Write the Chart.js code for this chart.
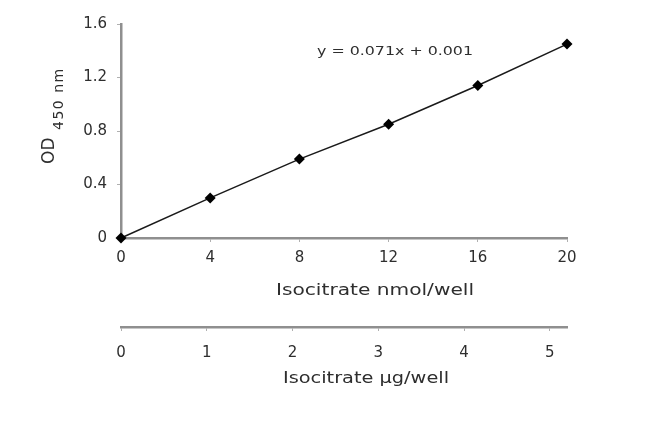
<!DOCTYPE html>
<html>
<head>
<meta charset="utf-8">
<script src="https://cdn.jsdelivr.net/npm/chart.js@4"></script>
<style>
  html, body { margin: 0; padding: 0; background: #fff; }
  #wrap { width: 650px; height: 432px; }
</style>
</head>
<body>
<div id="wrap"><canvas id="stdChart" width="650" height="432"></canvas></div>
<script>
// standard curve data
const nmolPerWell = [0, 4, 8, 12, 16, 20];
const od450 = [0, 0.30, 0.59, 0.85, 1.14, 1.45];
const xTicks = [0, 4, 8, 12, 16, 20];
const yTicks = [0, 0.4, 0.8, 1.2, 1.6];
const ugTicks = [0, 1, 2, 3, 4, 5];
const ugMax = 5.2;
const equationText = "y = 0.071x + 0.001";
const xTitle = "Isocitrate nmol/well";
const x2Title = "Isocitrate µg/well";

const textColor = '#2e2e2e';
const axisColor = '#8f8f8f';
const fontFamily = "'DejaVu Sans', sans-serif";

// draws text squeezed/stretched horizontally to a given width
function fitText(ctx, text, x, y, width, align) {
    const w = ctx.measureText(text).width;
    const sx = width / w;
    ctx.save();
    ctx.translate(x, y);
    ctx.scale(sx, 1);
    ctx.textAlign = align;
    ctx.fillText(text, 0, 0);
    ctx.restore();
}

// titles, subscript y title and the trendline equation
const extraText = {
    id: 'extraText',
    afterDraw(chart) {
        const ctx = chart.ctx;
        ctx.save();
        ctx.fillStyle = textColor;
        ctx.textBaseline = 'middle';

        // equation label
        ctx.font = "13px " + fontFamily;
        fitText(ctx, equationText, 317, 52, 156, 'left');

        // x axis titles
        ctx.font = "16px " + fontFamily;
        fitText(ctx, xTitle, 375, 291, 198, 'center');
        fitText(ctx, x2Title, 366, 379, 166, 'center');

        // rotated y title "OD 450 nm"
        ctx.textAlign = 'left';
        ctx.translate(50, 164);
        ctx.rotate(-Math.PI / 2);
        ctx.font = "17px " + fontFamily;
        ctx.fillText("OD", 0, 0);
        ctx.font = "14px " + fontFamily;
        ctx.letterSpacing = '1.5px';
        ctx.fillText("450 nm", 34, 9);
        ctx.restore();
    }
};

const ctx = document.getElementById('stdChart').getContext('2d');
new Chart(ctx, {
    type: 'scatter',
    data: {
        datasets: [{
            data: nmolPerWell.map((x, i) => ({ x: x, y: od450[i] })),
            showLine: true,
            clip: false,
            borderColor: '#1a1a1a',
            borderWidth: 1.5,
            backgroundColor: '#000',
            pointStyle: 'rectRot',
            pointRadius: 5.5,
            pointHoverRadius: 5.5,
            pointBorderWidth: 0,
            xAxisID: 'x',
            yAxisID: 'y'
        }]
    },
    options: {
        responsive: false,
        animation: false,
        layout: { padding: { left: 0, right: 83, top: 24, bottom: 43 } },
        plugins: {
            legend: { display: false },
            tooltip: { enabled: false }
        },
        scales: {
            x: {
                type: 'linear',
                position: 'bottom',
                min: 0,
                max: 20,
                afterBuildTicks: (axis) => { axis.ticks = xTicks.map(v => ({ value: v })); },
                afterFit: (axis) => { axis.height = 89; },
                border: { color: axisColor, width: 2.5 },
                grid: { drawOnChartArea: false, drawTicks: true, tickLength: 4, color: '#b0b0b0' },
                ticks: { color: textColor, padding: 7, font: { family: fontFamily, size: 15 } }
            },
            x2: {
                type: 'linear',
                position: 'bottom',
                min: 0,
                max: ugMax,
                afterBuildTicks: (axis) => { axis.ticks = ugTicks.map(v => ({ value: v })); },
                afterFit: (axis) => { axis.height = 62; },
                border: { color: axisColor, width: 2.5 },
                grid: { drawOnChartArea: false, drawTicks: true, tickLength: 4, color: '#b0b0b0' },
                ticks: { color: textColor, padding: 13, font: { family: fontFamily, size: 15 } }
            },
            y: {
                type: 'linear',
                min: 0,
                max: 1.6,
                afterBuildTicks: (axis) => { axis.ticks = yTicks.map(v => ({ value: v })); },
                afterFit: (axis) => { axis.width = 121; },
                border: { color: axisColor, width: 2.5 },
                grid: { drawOnChartArea: false, drawTicks: true, tickLength: 4, color: '#b0b0b0' },
                ticks: { color: textColor, padding: 10, font: { family: fontFamily, size: 15 } }
            }
        }
    },
    plugins: [extraText]
});
</script>
</body>
</html>
